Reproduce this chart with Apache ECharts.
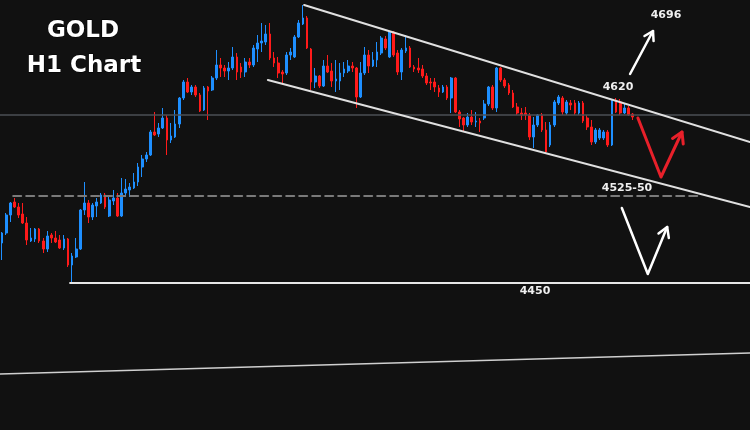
<!DOCTYPE html>
<html><head><meta charset="utf-8">
<script src="https://cdn.jsdelivr.net/npm/echarts@6/dist/echarts.min.js"></script>
<style>html,body{margin:0;padding:0;background:#111;}#c{width:750px;height:430px;}</style>
</head><body><div id="c"></div>
<script>
// ---- candle values (GOLD H1) ----
const opens = [
4490,4500,4518,4531,4526,4519,4510,4492,4494,4504,
4492,4484,4498,4495,4493,4485,4494,4468,4476,4484,
4523,4530,4516,4527,4530,4538,4517,4532,4535,4517,
4540,4543,4545,4551,4566,4574,4578,4601,4599,4605,
4615,4593,4596,4609,4635,4651,4641,4646,4638,4623,
4646,4643,4655,4668,4665,4662,4665,4676,4666,4661,
4671,4668,4684,4690,4691,4699,4675,4670,4661,4660,
4678,4676,4696,4709,4715,4684,4651,4657,4647,4667,
4662,4652,4652,4660,4662,4667,4665,4636,4660,4678,
4667,4673,4680,4694,4676,4701,4680,4661,4682,4685,
4666,4665,4664,4657,4651,4651,4645,4641,4646,4635,
4655,4621,4615,4608,4616,4611,4612,4615,4629,4646,
4625,4665,4653,4648,4640,4626,4620,4620,4618,4596,
4608,4618,4603,4588,4608,4630,4635,4620,4630,4630,
4620,4630,4615,4606,4591,4595,4595,4601,4588,4633,
4631,4620,4625,4619];
const closes = [
4500,4518,4530,4526,4518,4510,4493,4495,4504,4492,
4484,4497,4495,4491,4485,4494,4468,4477,4484,4523,
4530,4516,4528,4531,4538,4526,4533,4535,4517,4540,
4544,4546,4551,4566,4574,4578,4601,4598,4605,4615,
4593,4597,4609,4635,4651,4641,4646,4638,4622,4645,
4642,4655,4668,4665,4662,4665,4676,4661,4661,4671,
4668,4685,4690,4692,4699,4675,4670,4660,4659,4678,
4681,4696,4710,4715,4685,4651,4657,4647,4667,4661,
4652,4654,4660,4664,4667,4665,4636,4660,4678,4667,
4673,4681,4695,4685,4701,4678,4661,4683,4685,4666,
4664,4663,4657,4650,4650,4646,4641,4646,4635,4655,
4621,4614,4608,4616,4611,4612,4610,4629,4646,4625,
4665,4653,4647,4640,4626,4620,4618,4618,4596,4608,
4618,4603,4581,4608,4631,4636,4621,4631,4628,4620,
4630,4612,4606,4591,4603,4603,4601,4588,4633,4621,
4620,4625,4618,4616];
const lows = [
4473,4498,4511,4525,4515,4509,4488,4491,4491,4490,
4480,4481,4490,4490,4484,4483,4466,4450,4475,4483,
4518,4510,4513,4516,4529,4524,4516,4528,4516,4516,
4536,4536,4544,4547,4556,4571,4577,4597,4596,4604,
4578,4590,4595,4605,4633,4640,4638,4636,4621,4622,
4613,4642,4653,4656,4656,4653,4663,4653,4655,4656,
4665,4666,4671,4681,4688,4673,4666,4655,4650,4658,
4673,4675,4695,4708,4684,4643,4645,4645,4646,4660,
4646,4641,4643,4656,4660,4661,4625,4635,4658,4660,
4666,4666,4678,4683,4675,4676,4658,4653,4680,4665,
4661,4660,4655,4648,4643,4641,4636,4640,4633,4620,
4620,4606,4601,4606,4608,4606,4601,4613,4627,4623,
4621,4651,4645,4638,4625,4618,4613,4613,4593,4585,
4606,4601,4580,4586,4606,4628,4618,4618,4623,4618,
4618,4610,4603,4588,4589,4593,4593,4586,4587,4620,
4618,4619,4617,4613];
const highs = [
4501,4520,4531,4535,4530,4530,4516,4505,4505,4505,
4495,4502,4500,4502,4498,4498,4495,4480,4495,4524,
4551,4533,4530,4535,4540,4540,4538,4543,4540,4555,
4554,4550,4560,4570,4578,4581,4603,4621,4610,4625,
4618,4610,4623,4636,4653,4655,4648,4648,4640,4647,
4647,4657,4683,4675,4668,4671,4686,4680,4670,4675,
4675,4688,4698,4710,4708,4710,4681,4676,4663,4681,
4685,4698,4713,4728,4717,4685,4665,4658,4673,4678,
4670,4673,4670,4671,4673,4671,4666,4671,4686,4683,
4681,4691,4697,4697,4702,4702,4683,4685,4698,4687,
4668,4675,4668,4660,4655,4655,4648,4648,4648,4656,
4656,4623,4616,4620,4623,4621,4615,4633,4647,4648,
4666,4666,4655,4650,4643,4630,4625,4626,4620,4616,
4619,4620,4611,4611,4633,4638,4637,4633,4633,4633,
4632,4632,4618,4613,4605,4605,4603,4603,4634,4635,
4634,4629,4627,4620];

// time slots (hours); the right part is empty future space
const SLOTS = 182;
const categories = [];
for (let i = 0; i < SLOTS; i++) categories.push('H' + i);

// ---- annotation levels / drawings: [slot, price] ----
const upperChannel = [[73.8, 4728], [182, 4591]];
const lowerChannel = [[65.0, 4653], [182, 4526]];
const pivotLine   = [[0, 4618], [182, 4618]];
const zoneLine    = [[3.2, 4537], [169.2, 4537]];
const supportLine = [[17.0, 4450], [182, 4450]];
const longTrend   = [[0, 4359], [182, 4380]];
const upArrow     = [[152.9, 4659], [158.46, 4702]];
const upArrowHead = [[156.4, 4697.0], [158.46, 4702], [158.6, 4692]];
const redV        = [[154.8, 4615], [160.4, 4556], [165.5, 4601]];
const redVHead    = [[163.2, 4594.5], [165.5, 4601], [165.8, 4589]];
const whiteV      = [[150.9, 4525], [157.2, 4459], [161.9, 4506]];
const whiteVHead  = [[159.8, 4499.5], [161.9, 4506], [162.3, 4495]];

const candles = opens.map((o, i) => [o, closes[i], lows[i], highs[i]]);

function annot(data, color, width, type) {
  return {
    type: 'line', xAxisIndex: 1, yAxisIndex: 0, data: data,
    showSymbol: false, symbol: 'none', silent: true, animation: false,
    lineStyle: { color: color, width: width, type: type || 'solid', cap: 'round', join: 'round' },
    z: 5
  };
}

const FONT_TITLE = 'bold 23px "DejaVu Sans", Verdana, sans-serif';
const FONT_LABEL = 'bold 11px "DejaVu Sans", Verdana, sans-serif';

const chart = echarts.init(document.getElementById('c'));
chart.setOption({
  backgroundColor: '#111111',
  animation: false,
  grid: { left: 0, right: 0, top: 0, bottom: 0 },
  xAxis: [
    { type: 'category', data: categories, boundaryGap: true, show: false },
    { type: 'value', min: 0, max: SLOTS, show: false }
  ],
  yAxis: [{ type: 'value', min: 4303, max: 4733, show: false, splitLine: { show: false } }],
  series: [
    annot(pivotLine, '#4b4f54', 1.5),
    annot(zoneLine, '#7a7a7a', 2, [8, 5]),
    annot(supportLine, '#e6e6e6', 2),
    annot(longTrend, '#d0d0d0', 1.5),
    annot(upperChannel, '#e0e0e0', 2),
    annot(lowerChannel, '#e0e0e0', 2),
    {
      type: 'candlestick', data: candles, barWidth: 2.2,
      itemStyle: {
        color: '#1e8fff', color0: '#ff1a1a',
        borderColor: '#1e8fff', borderColor0: '#ff1a1a', borderWidth: 1
      },
      z: 3
    },
    annot(upArrow, '#ffffff', 2.5),
    annot(upArrowHead, '#ffffff', 2.5),
    annot(redV, '#e8202a', 3),
    annot(redVHead, '#e8202a', 3),
    annot(whiteV, '#ffffff', 2.5),
    annot(whiteVHead, '#ffffff', 2.5)
  ],
  graphic: [
    { type: 'text', x: 83, y: 31, style: { text: 'GOLD', font: FONT_TITLE, fill: '#ffffff', align: 'center', verticalAlign: 'middle', stroke: '#000', lineWidth: 1 } },
    { type: 'text', x: 84, y: 66, style: { text: 'H1 Chart', font: FONT_TITLE, fill: '#ffffff', align: 'center', verticalAlign: 'middle', stroke: '#000', lineWidth: 1 } },
    { type: 'text', x: 666, y: 15, style: { text: '4696', font: FONT_LABEL, fill: '#f0f0f0', align: 'center', verticalAlign: 'middle' } },
    { type: 'text', x: 618, y: 87, style: { text: '4620', font: FONT_LABEL, fill: '#f0f0f0', align: 'center', verticalAlign: 'middle' } },
    { type: 'text', x: 627, y: 188.5, style: { text: '4525-50', font: FONT_LABEL, fill: '#f0f0f0', align: 'center', verticalAlign: 'middle' } },
    { type: 'text', x: 535, y: 291, style: { text: '4450', font: FONT_LABEL, fill: '#f0f0f0', align: 'center', verticalAlign: 'middle' } }
  ]
});
</script>
</body></html>
